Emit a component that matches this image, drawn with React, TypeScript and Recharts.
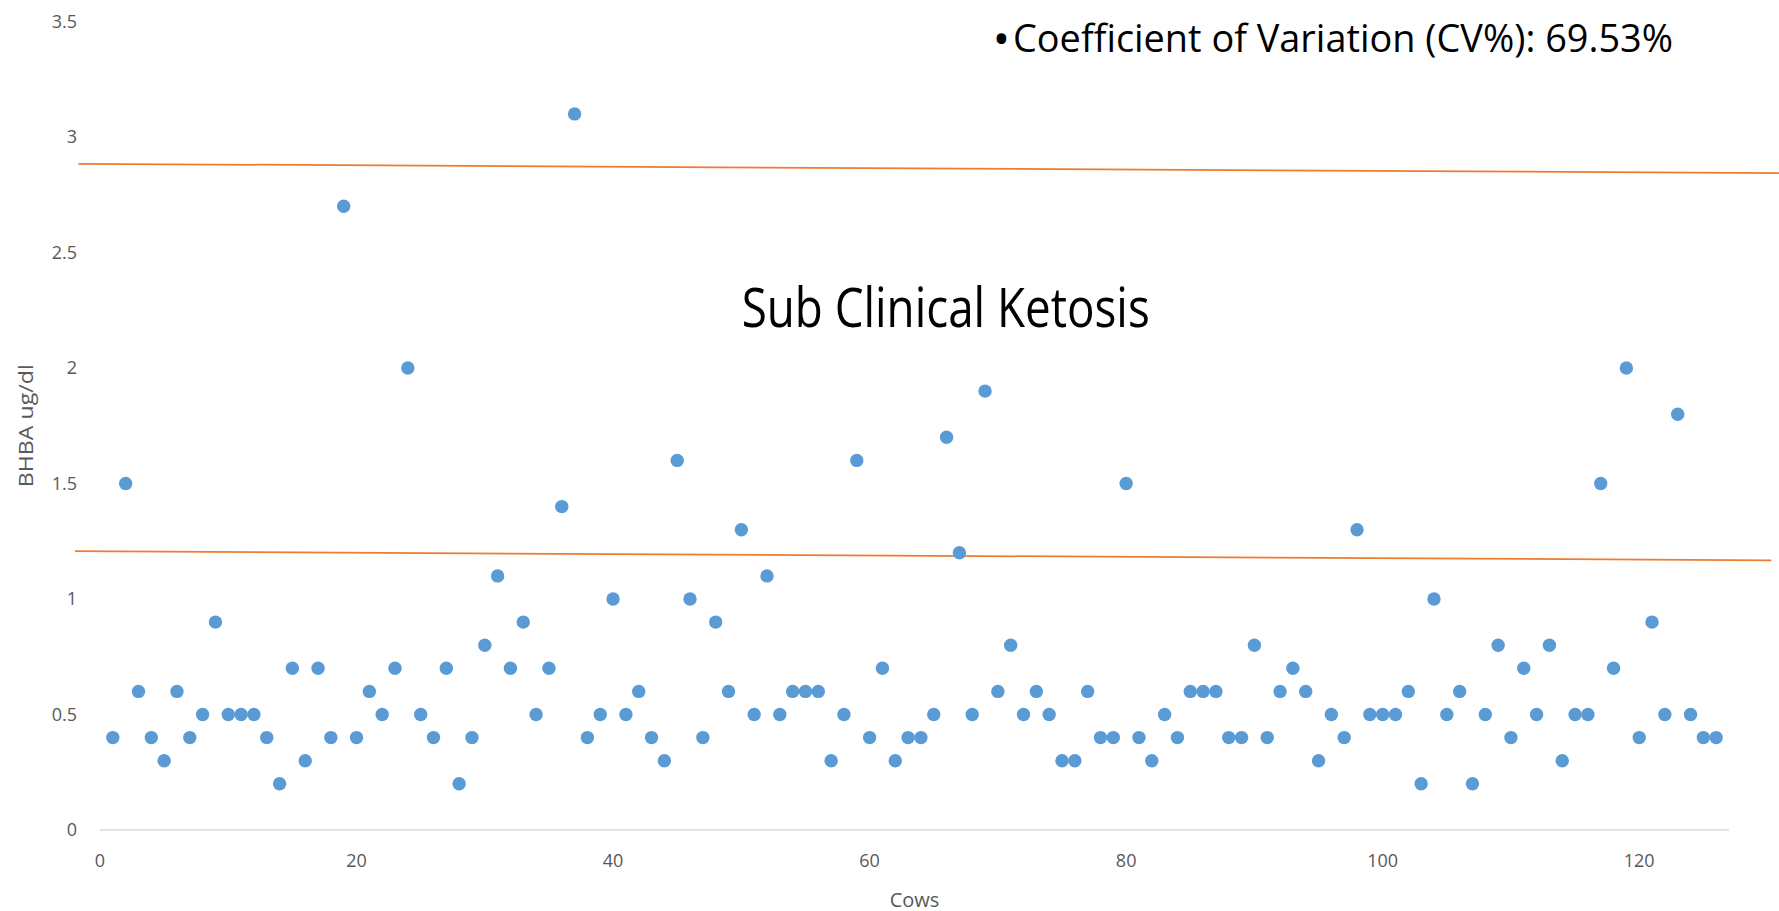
import React from 'react';
import { ScatterChart, Scatter, XAxis, YAxis, ReferenceLine, Label } from 'recharts';

// BHBA values (ug/dl) for cows 1..126
const bhbaValues: number[] = [
  0.4, 1.5, 0.6, 0.4, 0.3, 0.6, 0.4, 0.5, 0.9, 0.5,
  0.5, 0.5, 0.4, 0.2, 0.7, 0.3, 0.7, 0.4, 2.7, 0.4,
  0.6, 0.5, 0.7, 2.0, 0.5, 0.4, 0.7, 0.2, 0.4, 0.8,
  1.1, 0.7, 0.9, 0.5, 0.7, 1.4, 3.1, 0.4, 0.5, 1.0,
  0.5, 0.6, 0.4, 0.3, 1.6, 1.0, 0.4, 0.9, 0.6, 1.3,
  0.5, 1.1, 0.5, 0.6, 0.6, 0.6, 0.3, 0.5, 1.6, 0.4,
  0.7, 0.3, 0.4, 0.4, 0.5, 1.7, 1.2, 0.5, 1.9, 0.6,
  0.8, 0.5, 0.6, 0.5, 0.3, 0.3, 0.6, 0.4, 0.4, 1.5,
  0.4, 0.3, 0.5, 0.4, 0.6, 0.6, 0.6, 0.4, 0.4, 0.8,
  0.4, 0.6, 0.7, 0.6, 0.3, 0.5, 0.4, 1.3, 0.5, 0.5,
  0.5, 0.6, 0.2, 1.0, 0.5, 0.6, 0.2, 0.5, 0.8, 0.4,
  0.7, 0.5, 0.8, 0.3, 0.5, 0.5, 1.5, 0.7, 2.0, 0.4,
  0.9, 0.5, 1.8, 0.5, 0.4, 0.4,
];

const xTicks: number[] = [0, 20, 40, 60, 80, 100, 120];
const yTicks: number[] = [0, 0.5, 1, 1.5, 2, 2.5, 3, 3.5];

// Hand-drawn threshold lines (endpoints in data units)
const clinicalLine = [{ x: -1.68, y: 2.884 }, { x: 130.9, y: 2.844 }];
const subClinicalLine = [{ x: -1.95, y: 1.207 }, { x: 130.3, y: 1.1675 }];

const titleText = 'Sub Clinical Ketosis';
const bulletText = '\u2022';
const cvText = 'Coefficient of Variation (CV%): 69.53%';
const xTitle = 'Cows';
const yTitle = 'BHBA ug/dl';

const data = bhbaValues.map((v, i) => ({ cow: i + 1, bhba: v }));

const FONT = "'Open Sans', 'Noto Sans', sans-serif";
const W = 1779;
const H = 911;

const Dot = (p: any) => <circle cx={p.cx} cy={p.cy} r={6.7} fill="#5B9BD5" />;

export default function App() {
  return (
    <div style={{ position: 'absolute', left: 0, top: 0, width: W, height: H, background: '#fff', overflow: 'hidden' }}>
      <ScatterChart width={W} height={H} margin={{ top: 21.5, right: 50, bottom: 0, left: 0 }}>
        <XAxis
          type="number"
          dataKey="cow"
          domain={[0, 127]}
          ticks={xTicks}
          interval={0}
          height={81}
          tickSize={0}
          tickMargin={24}
          axisLine={{ stroke: '#D9D9D9', strokeWidth: 1.5 }}
          tickLine={false}
          tick={{ fill: '#595959', fontSize: 18, fontFamily: FONT }}
        >
          <Label
            content={(props: any) => {
              const vb = props.viewBox || {};
              return (
                <text x={vb.x + vb.width / 2} y={vb.y + 69} textAnchor="middle" dominantBaseline="central" fill="#595959" fontSize={20} fontFamily={FONT}>
                  {xTitle}
                </text>
              );
            }}
          />
        </XAxis>
        <YAxis
          type="number"
          dataKey="bhba"
          domain={[0, 3.5]}
          ticks={yTicks}
          interval={0}
          width={100}
          tickSize={0}
          tickMargin={23}
          axisLine={false}
          tickLine={false}
          tick={{ fill: '#595959', fontSize: 18, fontFamily: FONT }}
        >
          <Label
            content={(props: any) => {
              const vb = props.viewBox || {};
              const cy = vb.y + vb.height / 2;
              return (
                <text x={25} y={cy} transform={`rotate(-90 25 ${cy})`} textAnchor="middle" dominantBaseline="central" fill="#595959" fontSize={20} fontFamily={FONT} textLength={123} lengthAdjust="spacingAndGlyphs">
                  {yTitle}
                </text>
              );
            }}
          />
        </YAxis>
        <ReferenceLine segment={clinicalLine} stroke="#ED7D31" strokeWidth={1.75} ifOverflow="visible" />
        <ReferenceLine segment={subClinicalLine} stroke="#ED7D31" strokeWidth={1.75} ifOverflow="visible" />
        <Scatter data={data} shape={Dot} isAnimationActive={false} />
      </ScatterChart>
      <svg width={W} height={H} style={{ position: 'absolute', left: 0, top: 0, pointerEvents: 'none' }}>
        <text x={741.7} y={326.7} fontSize={54} fontFamily={FONT} fill="#000" textLength={408} lengthAdjust="spacingAndGlyphs">
          {titleText}
        </text>
        <text x={1001.5} y={55} fontSize={46} fontFamily={FONT} fill="#000" textAnchor="middle">
          {bulletText}
        </text>
        <text x={1013} y={52} fontSize={38} fontFamily={FONT} fill="#000" textLength={660} lengthAdjust="spacingAndGlyphs">
          {cvText}
        </text>
      </svg>
    </div>
  );
}
